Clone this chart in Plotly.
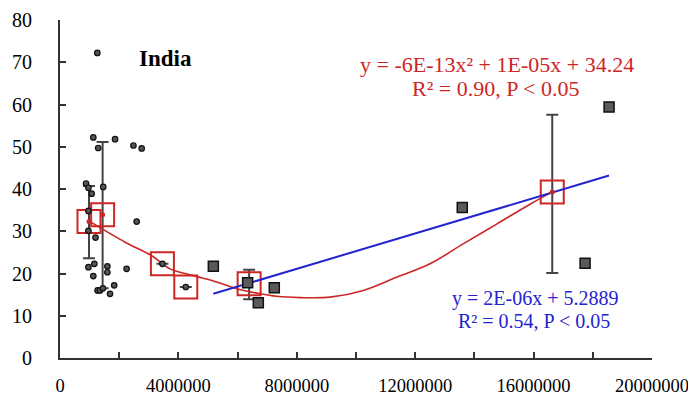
import plotly.graph_objects as go

# raw observations (small black dots)
obs_x = [1.26e6, 1.125e6, 1.86e6, 1.29e6, 2.48e6, 2.76e6, 0.88e6, 1.07e6, 1.46e6, 0.96e6,
         2.59e6, 0.96e6, 1.20e6, 0.96e6, 1.16e6, 1.125e6, 1.60e6, 1.60e6, 2.25e6, 1.27e6,
         1.35e6, 1.83e6, 1.69e6, 3.46e6, 4.25e6, 1.45e6, 0.96e6]
obs_y = [72.2, 52.2, 51.8, 49.7, 50.3, 49.6, 41.3, 38.9, 40.5, 34.8,
         32.3, 30.1, 28.5, 21.5, 22.3, 19.4, 21.7, 20.3, 21.1, 16.0,
         16.0, 17.2, 15.2, 22.3, 16.8, 16.5, 40.3]

# gray square observations
sq_x = [5.18e6, 6.34e6, 6.70e6, 7.24e6, 13.59e6, 17.74e6, 18.55e6]
sq_y = [21.7, 17.8, 13.1, 16.6, 35.6, 22.4, 59.4]

# group means (red open squares) with error bars
mean_x = [0.98e6, 1.44e6, 3.46e6, 4.25e6, 6.39e6, 16.63e6]
mean_y = [32.3, 33.9, 22.3, 16.8, 17.6, 39.3]
err_plus = [8.4, 17.2, 0, 0, 3.3, 18.3]
err_minus = [8.7, 17.4, 0, 0, 3.7, 19.2]

# red fitted curve
curve_x = [0.96e6, 2.20e6, 3.10e6, 3.72e6, 4.50e6, 5.29e6, 5.97e6, 6.76e6, 7.32e6, 8.11e6,
           9.12e6, 10.25e6, 11.37e6, 12.5e6, 13.62e6, 14.75e6, 15.88e6, 16.6e6]
curve_y = [32.5, 27.4, 24.2, 21.1, 19.5, 18.0, 16.4, 15.2, 14.6, 14.3,
           14.4, 16.0, 19.1, 22.3, 27.0, 31.7, 36.4, 39.2]

# blue linear fit
lin_x = [5.18e6, 18.55e6]
lin_y = [15.2, 43.2]

x_ticks = [0, 4e6, 8e6, 12e6, 16e6, 20e6]
x_labels = ["0", "4000000", "8000000", "12000000", "16000000", "20000000"]
y_ticks = [0, 10, 20, 30, 40, 50, 60, 70, 80]

RED = "#cc2626"
BLUE = "#2323d0"
FONT = "Liberation Serif"

# page has an 8px body margin; figure is sized to fit the 696x404 window
OFF = 8
W, H = 696 - OFF, 404 - OFF
PL, PR, PT, PB = 60, 652, 20, 358  # plot area in page pixels

fig = go.Figure()

fig.add_trace(go.Scatter(
    x=mean_x, y=mean_y, mode="markers",
    marker=dict(symbol="square-open", size=23, color=RED, line=dict(width=2, color=RED)),
    error_y=dict(type="data", symmetric=False, array=err_plus, arrayminus=err_minus,
                 color="#444444", thickness=2, width=6),
    showlegend=False))

fig.add_trace(go.Scatter(x=curve_x, y=curve_y, mode="lines", line=dict(color=RED, width=1.6, shape="spline"),
                         showlegend=False))
fig.add_trace(go.Scatter(x=lin_x, y=lin_y, mode="lines", line=dict(color=BLUE, width=2), showlegend=False))

fig.add_trace(go.Scatter(x=mean_x, y=mean_y, mode="markers",
                         marker=dict(symbol="circle", size=5, color=RED), showlegend=False))

fig.add_trace(go.Scatter(x=obs_x, y=obs_y, mode="markers",
                         marker=dict(symbol="circle", size=5.5, color="#555555", line=dict(width=1.2, color="#111111")),
                         showlegend=False))

fig.add_trace(go.Scatter(x=sq_x, y=sq_y, mode="markers",
                         marker=dict(symbol="square", size=10, color="#5a5a5a", line=dict(width=1.5, color="#111111")),
                         showlegend=False))

def px_x(p):
    return (p - PL) / float(PR - PL)

def px_y(p):
    return (PB - p) / float(PB - PT)

annos = [
    dict(text="<b>India</b>", x=px_x(165), y=px_y(58), color="black", size=23),
    dict(text="y = -6E-13x² + 1E-05x + 34.24", x=px_x(497), y=px_y(64), color=RED, size=22),
    dict(text="R² = 0.90, P < 0.05", x=px_x(496), y=px_y(88), color=RED, size=22),
    dict(text="y = 2E-06x + 5.2889", x=px_x(535), y=px_y(298), color=BLUE, size=20),
    dict(text="R² = 0.54, P < 0.05", x=px_x(534), y=px_y(321), color=BLUE, size=20),
]
for a in annos:
    fig.add_annotation(text=a["text"], x=a["x"], y=a["y"], xref="paper", yref="paper",
                       showarrow=False, xanchor="center", yanchor="middle",
                       font=dict(family=FONT, size=a["size"], color=a["color"]))

fig.update_layout(
    width=W, height=H,
    margin=dict(l=PL - OFF, r=W - (PR - OFF), t=PT - OFF, b=H - (PB - OFF), autoexpand=False),
    plot_bgcolor="white", paper_bgcolor="white",
    font=dict(family=FONT, size=19, color="black"),
    xaxis=dict(range=[0, 20e6], tickvals=x_ticks, ticktext=x_labels, showgrid=False, zeroline=False,
               showline=True, linecolor="#333333", linewidth=2, ticks="inside", ticklen=6,
               tickcolor="#333333", tickwidth=1.5, automargin=False, tickfont=dict(size=18.5),
               minor=dict(dtick=2e6, tick0=0, ticks="inside", ticklen=6, tickcolor="#333333", tickwidth=1.5),
               ticklabelstandoff=10, ticklabeloverflow="allow"),
    yaxis=dict(range=[0, 80], tickvals=y_ticks, showgrid=False, zeroline=False,
               showline=True, linecolor="#333333", linewidth=2, ticks="inside", ticklen=6,
               tickcolor="#333333", tickwidth=1.5, ticklabelstandoff=22, automargin=False,
               tickfont=dict(size=20), ticklabeloverflow="allow"),
)

fig.write_html("out.html")
